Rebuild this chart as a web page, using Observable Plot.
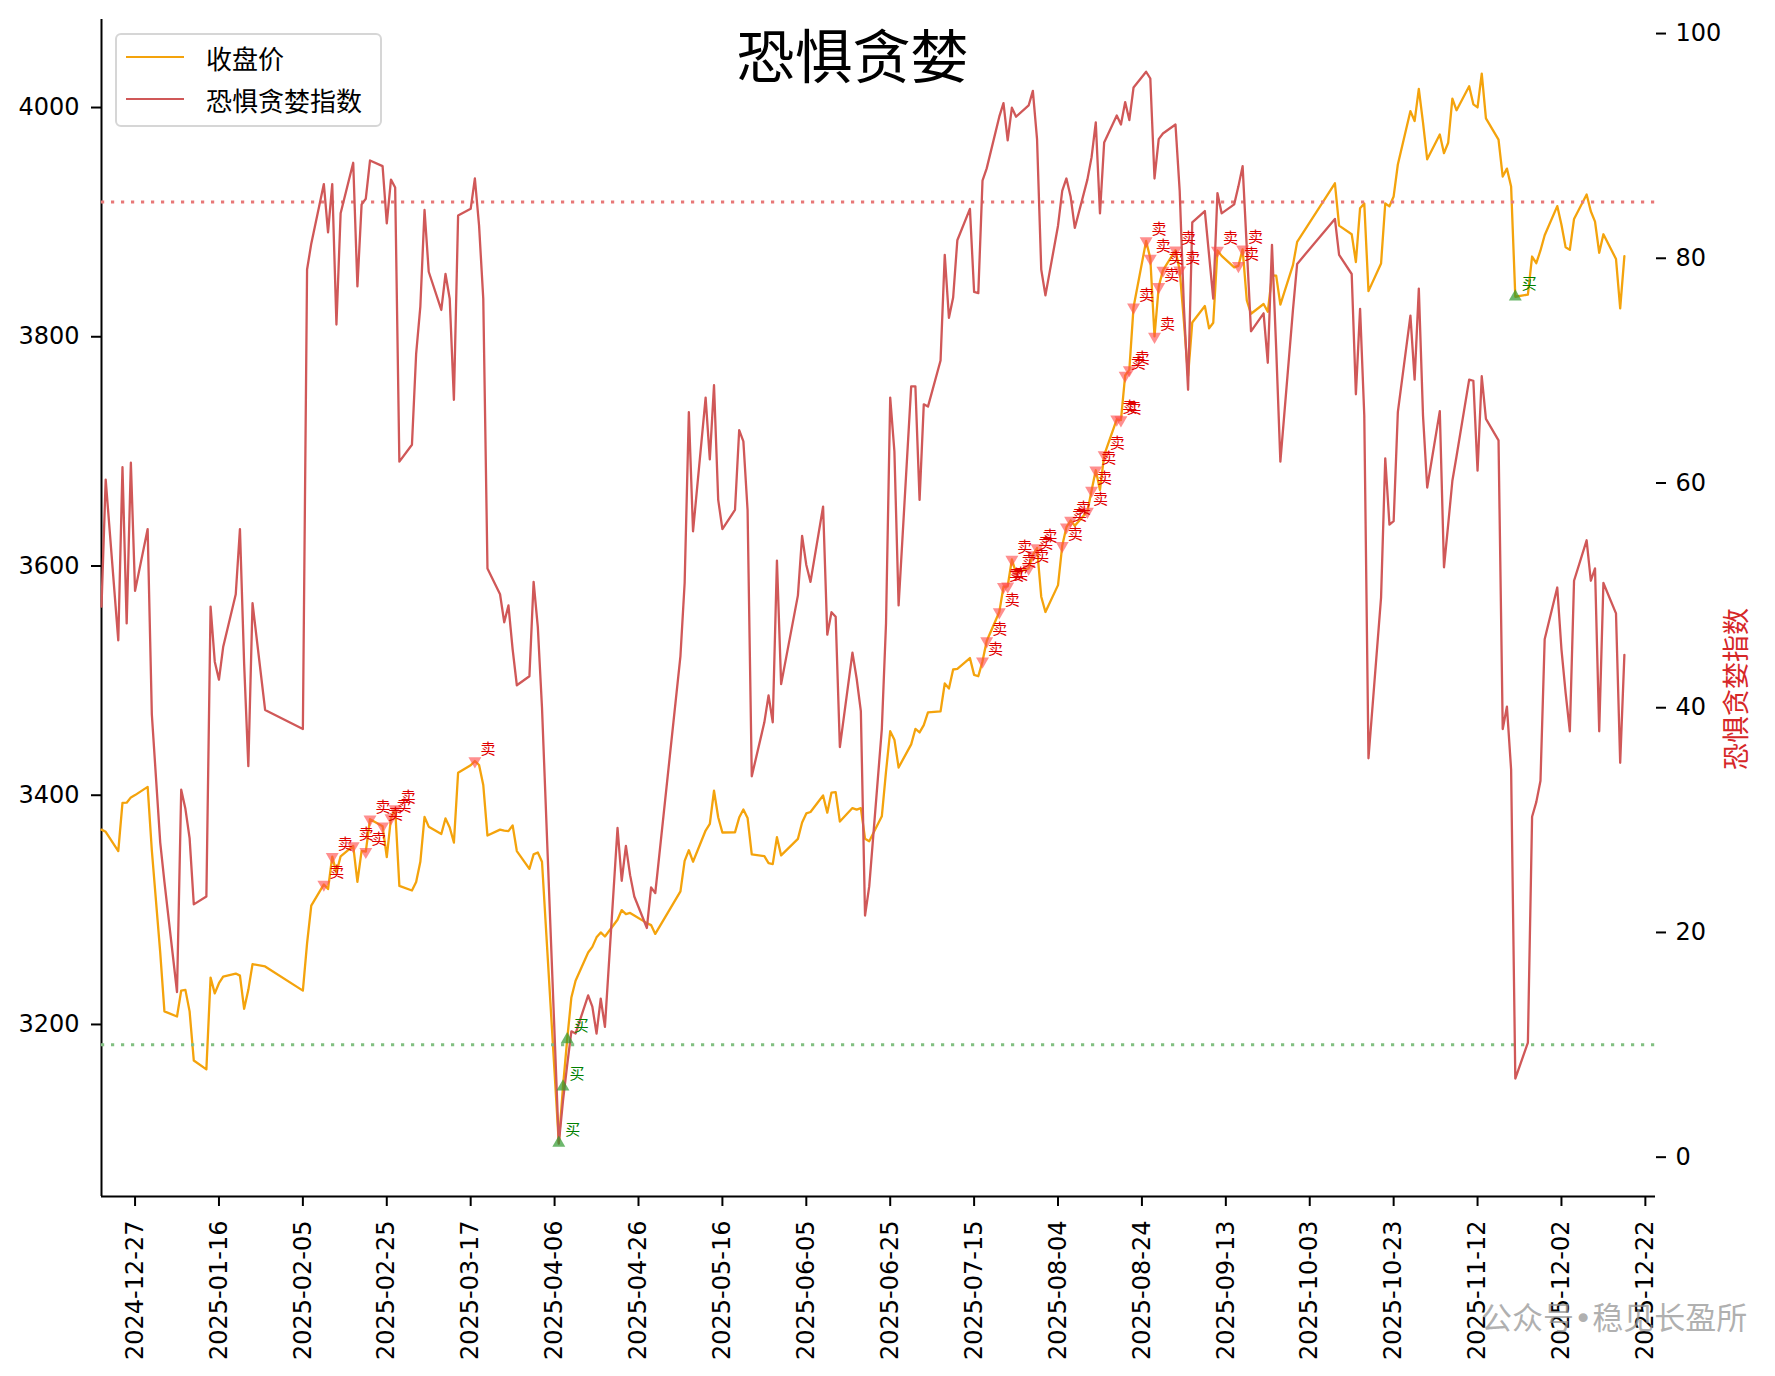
<!DOCTYPE html>
<html>
<head>
<meta charset="utf-8">
<script src="https://cdn.jsdelivr.net/npm/d3@7"></script>
<script src="https://cdn.jsdelivr.net/npm/@observablehq/plot@0.6"></script>
<style>
  html, body { margin: 0; padding: 0; background: #fff; }
  #wrap { position: relative; width: 1775px; height: 1376px; overflow: hidden; background: #fff; }
  #wrap svg { position: absolute; left: 0; top: 0; }
  #legend { position: absolute; left: 115px; top: 33px; width: 263px; height: 90px; border: 2px solid #d6d6d6; border-radius: 6px; background: rgba(255,255,255,0.85); font-family: "Noto Sans CJK SC", sans-serif; font-size: 26px; color: #000; }
  .row { position: absolute; left: 0; height: 40px; display: flex; align-items: center; }
  .sw { width: 58px; height: 0; margin-left: 9px; margin-right: 22px; }
  #wm { position: absolute; left: 1481px; top: 1293px; font-family: "DejaVu Sans", "Noto Sans CJK SC", sans-serif; font-size: 31px; color: rgba(150,150,150,0.75); white-space: nowrap; }
</style>
</head>
<body>
<div id="wrap"></div>
<script>
// ---------- data ----------
const dates = [
"2024-12-19","2024-12-20","2024-12-23","2024-12-24","2024-12-25","2024-12-26","2024-12-27","2024-12-30","2024-12-31",
"2025-01-02","2025-01-03","2025-01-06","2025-01-07","2025-01-08","2025-01-09","2025-01-10","2025-01-13","2025-01-14","2025-01-15","2025-01-16","2025-01-17","2025-01-20","2025-01-21","2025-01-22","2025-01-23","2025-01-24","2025-01-27",
"2025-02-05","2025-02-06","2025-02-07","2025-02-10","2025-02-11","2025-02-12","2025-02-13","2025-02-14","2025-02-17","2025-02-18","2025-02-19","2025-02-20","2025-02-21","2025-02-24","2025-02-25","2025-02-26","2025-02-27","2025-02-28",
"2025-03-03","2025-03-04","2025-03-05","2025-03-06","2025-03-07","2025-03-10","2025-03-11","2025-03-12","2025-03-13","2025-03-14","2025-03-17","2025-03-18","2025-03-19","2025-03-20","2025-03-21","2025-03-24","2025-03-25","2025-03-26","2025-03-27","2025-03-28","2025-03-31",
"2025-04-01","2025-04-02","2025-04-03","2025-04-07","2025-04-08","2025-04-09","2025-04-10","2025-04-11","2025-04-14","2025-04-15","2025-04-16","2025-04-17","2025-04-18","2025-04-21","2025-04-22","2025-04-23","2025-04-24","2025-04-25","2025-04-28","2025-04-29","2025-04-30",
"2025-05-06","2025-05-07","2025-05-08","2025-05-09","2025-05-12","2025-05-13","2025-05-14","2025-05-15","2025-05-16","2025-05-19","2025-05-20","2025-05-21","2025-05-22","2025-05-23","2025-05-26","2025-05-27","2025-05-28","2025-05-29","2025-05-30",
"2025-06-03","2025-06-04","2025-06-05","2025-06-06","2025-06-09","2025-06-10","2025-06-11","2025-06-12","2025-06-13","2025-06-16","2025-06-17","2025-06-18","2025-06-19","2025-06-20","2025-06-23","2025-06-24","2025-06-25","2025-06-26","2025-06-27","2025-06-30",
"2025-07-01","2025-07-02","2025-07-03","2025-07-04","2025-07-07","2025-07-08","2025-07-09","2025-07-10","2025-07-11","2025-07-14","2025-07-15","2025-07-16","2025-07-17","2025-07-18","2025-07-21","2025-07-22","2025-07-23","2025-07-24","2025-07-25","2025-07-28","2025-07-29","2025-07-30","2025-07-31",
"2025-08-01","2025-08-04","2025-08-05","2025-08-06","2025-08-07","2025-08-08","2025-08-11","2025-08-12","2025-08-13","2025-08-14","2025-08-15","2025-08-18","2025-08-19","2025-08-20","2025-08-21","2025-08-22","2025-08-25","2025-08-26","2025-08-27","2025-08-28","2025-08-29",
"2025-09-01","2025-09-02","2025-09-03","2025-09-04","2025-09-05","2025-09-08","2025-09-09","2025-09-10","2025-09-11","2025-09-12","2025-09-15","2025-09-16","2025-09-17","2025-09-18","2025-09-19","2025-09-22","2025-09-23","2025-09-24","2025-09-25","2025-09-26","2025-09-29","2025-09-30",
"2025-10-09","2025-10-10","2025-10-13","2025-10-14","2025-10-15","2025-10-16","2025-10-17","2025-10-20","2025-10-21","2025-10-22","2025-10-23","2025-10-24","2025-10-27","2025-10-28","2025-10-29","2025-10-30","2025-10-31",
"2025-11-03","2025-11-04","2025-11-05","2025-11-06","2025-11-07","2025-11-10","2025-11-11","2025-11-12","2025-11-13","2025-11-14","2025-11-17","2025-11-18","2025-11-19","2025-11-20","2025-11-21","2025-11-24","2025-11-25","2025-11-26","2025-11-27","2025-11-28",
"2025-12-01","2025-12-02","2025-12-03","2025-12-04","2025-12-05","2025-12-08","2025-12-09","2025-12-10","2025-12-11","2025-12-12","2025-12-15","2025-12-16","2025-12-17"
];
const closePrice = [
3370.0,3368.1,3351.3,3393.4,3393.5,3398.1,3400.1,3407.3,3351.8,
3262.6,3211.4,3206.9,3229.6,3230.2,3211.4,3168.5,3160.8,3240.9,3227.1,3236.0,3241.8,3244.4,3242.6,3213.6,3230.2,3252.6,3250.6,
3229.5,3270.7,3303.7,3322.2,3318.1,3346.4,3332.5,3346.7,3355.8,3324.5,3351.5,3350.8,3379.1,3373.0,3346.0,3380.2,3388.1,3320.9,
3316.9,3324.2,3341.9,3381.1,3372.6,3366.2,3379.8,3371.9,3358.7,3419.6,3426.1,3429.8,3426.4,3408.9,3364.8,3370.0,3369.1,3368.7,3373.7,3351.3,3335.8,
3348.4,3350.1,3342.0,3096.6,3145.6,3186.8,3223.6,3238.2,3262.8,3267.7,3276.0,3280.3,3276.7,3291.4,3299.8,3296.3,3297.3,3295.1,3288.4,3286.7,3279.0,
3316.1,3342.7,3352.0,3342.0,3369.2,3374.9,3403.9,3380.8,3367.5,3367.6,3380.5,3387.6,3380.2,3348.4,3346.8,3340.7,3339.9,3363.4,3347.5,
3361.9,3376.2,3384.1,3385.4,3399.8,3384.8,3402.3,3402.7,3377.0,3388.8,3387.4,3388.8,3362.1,3359.9,3381.6,3420.6,3455.9,3448.5,3424.2,3444.4,
3457.8,3454.8,3461.2,3472.3,3473.1,3497.5,3493.1,3509.7,3510.2,3519.7,3505.0,3503.8,3516.8,3534.5,3559.8,3581.9,3582.3,3605.7,3593.7,3597.9,3609.7,3615.7,3573.2,
3559.9,3583.3,3617.6,3633.9,3639.7,3635.1,3647.5,3665.9,3683.5,3666.4,3696.8,3728.0,3727.3,3766.2,3771.1,3825.8,3883.6,3868.4,3800.3,3843.6,3857.9,
3875.5,3858.1,3813.6,3765.9,3812.5,3826.8,3807.3,3812.2,3875.3,3870.6,3860.5,3861.9,3876.3,3831.7,3820.1,3828.6,3821.8,3853.6,3853.3,3828.1,3862.5,3882.8,
3933.9,3897.0,3889.5,3865.2,3912.2,3916.2,3839.8,3863.9,3916.3,3913.8,3922.4,3950.3,3996.9,3988.2,4016.3,3986.9,3954.8,
3976.5,3960.2,3969.3,4007.8,3997.6,4018.6,4002.8,4000.1,4029.5,3990.5,3972.0,3939.8,3946.7,3931.1,3834.9,3836.8,3870.0,3864.2,3875.3,3888.6,
3914.0,3897.7,3878.0,3875.8,3902.8,3924.1,3909.5,3900.5,3873.3,3889.4,3867.9,3824.8,3870.3
];
const fearGreed = [
49,60.3,46,61.4,47.5,61.8,50.4,55.9,39.4,
28,24.5,14.7,32.7,31,28.4,22.5,23.2,49,44.1,42.5,45.4,50.1,55.9,43.9,34.8,49.3,39.8,
38.1,79,81.3,86.6,82.3,86.6,74.1,84,88.5,77.5,84.8,85.3,88.7,88.2,83.1,87,86.3,61.9,
63.4,71.5,75.7,84.3,78.8,75.4,78.6,76.4,67.4,83.8,84.4,87.1,82.9,76.4,52.4,50.1,47.6,49.1,45.2,42,42.8,
51.2,47.2,40,1.2,5,8.2,11.2,11,14.4,13.4,11,14.1,11.6,29.3,24.6,27.7,25.1,23.2,20.4,24,23.5,
44.6,51.1,66.3,55.7,67.6,62.1,68.7,58.5,55.9,57.6,64.7,63.7,57.6,33.9,38.7,41.1,38.7,53.1,42.1,
50,55.3,52.7,51.2,57.9,46.5,48.5,48.1,36.5,44.9,42.6,39.7,21.5,24.1,38.1,47.5,67.6,62.8,49.1,68.6,
68.6,58.5,67,66.8,70.9,80.3,74.7,76.5,81.6,84.4,77,76.9,86.9,88,92.6,93.8,90.5,93.4,92.6,93.6,94.9,90.6,79,
76.7,82.9,86,87.1,85.5,82.7,87,89,92.1,84,90.3,92.7,91.9,93.9,92.3,95.2,96.6,96,87.1,90.6,91.1,
91.9,86,75.7,68.3,83.2,84.2,80.3,76.4,85.8,84,84.8,86.4,88.2,80.9,73.5,75.1,70.7,81.2,72,61.9,75.4,79.5,
83.5,80.3,78.6,67.9,75.5,66,35.5,49.8,62.2,56.3,56.6,66.3,74.9,69.2,77.3,66,59.6,
66.4,52.5,56.3,60.2,62.4,69.2,69.1,61.1,69.5,65.7,63.8,38.1,40.1,34.5,7,10.2,30.3,31.6,33.5,46.1,
50.7,45.2,41.3,37.9,51.3,54.9,51.3,52.4,37.9,51.1,48.4,35.1,44.7
];
const tickDates = ["2024-12-27","2025-01-16","2025-02-05","2025-02-25","2025-03-17","2025-04-06","2025-04-26","2025-05-16","2025-06-05","2025-06-25","2025-07-15","2025-08-04","2025-08-24","2025-09-13","2025-10-03","2025-10-23","2025-11-12","2025-12-02","2025-12-22"];
const closeTicks = [3200, 3400, 3600, 3800, 4000];
const fearTicks = [0, 20, 40, 60, 80, 100];
const SELL_LEVEL = 85;
const BUY_LEVEL = 10;
const titleText = "恐惧贪婪";
const closeName = "收盘价";
const fearName = "恐惧贪婪指数";
const sellText = "卖";
const buyText = "买";
const watermark = "公众号•稳见长盈所";

// ---------- build ----------
const parse = d3.utcParse("%Y-%m-%d");
const rows = dates.map((d, i) => ({date: parse(d), close: closePrice[i], fear: fearGreed[i]}));
const sells = rows.filter(d => d.fear > SELL_LEVEL);
const buys = rows.filter(d => d.fear < BUY_LEVEL);

const xDomain = [parse("2024-12-19"), new Date(Date.UTC(2025, 11, 24, 10))];
const closeDomain = [3049.9, 4076.8];
const fearDomain = [-3.5, 101.25];

const COL_CLOSE = "#f4a30c";
const COL_FEAR = "#d05858";
const CJK = "Noto Sans CJK SC";
const LATIN = "DejaVu Sans";

const frame = {width: 1775, height: 1376, marginLeft: 101, marginRight: 120, marginTop: 19, marginBottom: 180};

const p1 = Plot.plot({
  ...frame,
  style: {fontFamily: LATIN, fontSize: "24px", color: "#000", background: "transparent", overflow: "visible"},
  x: {type: "utc", domain: xDomain},
  y: {domain: closeDomain},
  marks: [
    Plot.axisX({ticks: tickDates.map(parse), tickFormat: d3.utcFormat("%Y-%m-%d"), tickRotate: -90, tickSize: 10, tickPadding: 14, strokeWidth: 2, fontSize: 24, label: null}),
    Plot.axisY({ticks: closeTicks, tickFormat: d3.format("d"), tickSize: 10, tickPadding: 12, strokeWidth: 2, fontSize: 24, label: null}),
    Plot.ruleX([xDomain[0]], {stroke: "#000", strokeWidth: 2}),
    Plot.ruleY([closeDomain[0]], {stroke: "#000", strokeWidth: 2}),
    Plot.line(rows, {x: "date", y: "close", stroke: COL_CLOSE, strokeWidth: 2.3})
  ]
});

const p2 = Plot.plot({
  ...frame,
  style: {fontFamily: LATIN, fontSize: "24px", color: "#000", background: "transparent", overflow: "visible"},
  x: {type: "utc", domain: xDomain, axis: null},
  y: {domain: fearDomain, axis: null},
  marks: [
    Plot.ruleY([SELL_LEVEL], {stroke: "#e87878", strokeWidth: 3, strokeDasharray: "3.2,6.8"}),
    Plot.ruleY([BUY_LEVEL], {stroke: "#82c082", strokeWidth: 3, strokeDasharray: "3.2,6.8"}),
    Plot.line(rows, {x: "date", y: "fear", stroke: COL_FEAR, strokeWidth: 2.3}),
    Plot.axisY({anchor: "right", ticks: fearTicks, tickSize: 10, tickPadding: 10, strokeWidth: 2, fontSize: 24, label: null}),
    Plot.text([fearName], {frameAnchor: "right", dx: 82, rotate: -90, text: d => d, fill: "#d62728", fontSize: 27, fontFamily: CJK}),
    Plot.text([titleText], {frameAnchor: "top", dx: -26, dy: 40, lineAnchor: "middle", text: d => d, fill: "#000", fontSize: 58, fontWeight: 400, fontFamily: CJK})
  ]
});

const p3 = Plot.plot({
  ...frame,
  style: {fontFamily: CJK, background: "transparent", overflow: "visible"},
  x: {type: "utc", domain: xDomain, axis: null},
  y: {domain: closeDomain, axis: null},
  marks: [
    Plot.dot(sells, {x: "date", y: "close", symbol: "triangle", rotate: 180, r: 4.8, fill: "#ff4a4a", fillOpacity: 0.62, stroke: "none"}),
    Plot.text(sells, {x: "date", y: "close", text: () => sellText, dx: 13, dy: -12, fill: "#e00000", fontSize: 15, fontFamily: CJK}),
    Plot.dot(buys, {x: "date", y: "close", symbol: "triangle", r: 4.8, fill: "#2f9a2f", fillOpacity: 0.7, stroke: "none"}),
    Plot.text(buys, {x: "date", y: "close", text: () => buyText, dx: 14, dy: -13, fill: "#008000", fontSize: 15, fontFamily: CJK})
  ]
});

const wrap = document.getElementById("wrap");
wrap.appendChild(p1);
wrap.appendChild(p2);
wrap.appendChild(p3);

// legend
const lg = document.createElement("div");
lg.id = "legend";
[[closeName, COL_CLOSE, 2], [fearName, COL_FEAR, 44]].forEach(([name, col, top]) => {
  const r = document.createElement("div");
  r.className = "row";
  r.style.top = top + "px";
  const sw = document.createElement("div");
  sw.className = "sw";
  sw.style.borderTop = "2.6px solid " + col;
  const t = document.createElement("span");
  t.textContent = name;
  r.appendChild(sw);
  r.appendChild(t);
  lg.appendChild(r);
});
wrap.appendChild(lg);

const wm = document.createElement("div");
wm.id = "wm";
wm.textContent = watermark;
wrap.appendChild(wm);
</script>
</body>
</html>
